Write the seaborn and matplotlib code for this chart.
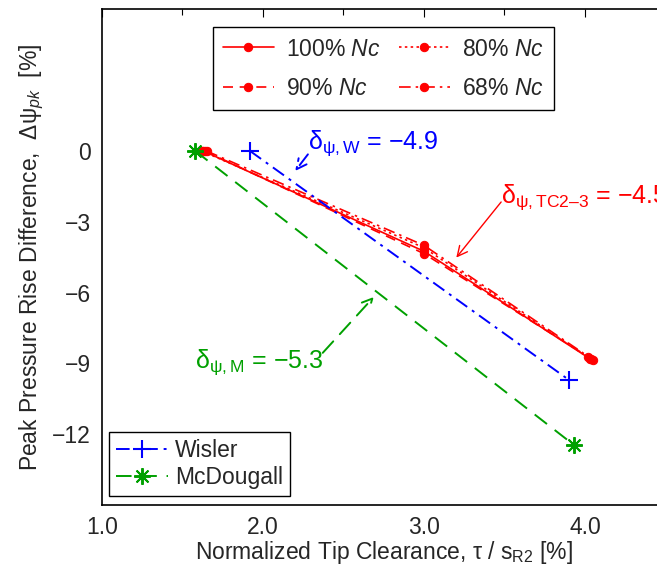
import matplotlib
matplotlib.use("Agg")
import matplotlib.pyplot as plt
import seaborn as sns
import pandas as pd
from matplotlib.ticker import FixedLocator

# ---- data ----
speeds = ["100%", "90%", "80%", "68%"]
tc_100 = [1.63, 3.0, 4.03]
dpsi_100 = [0.0, -4.25, -8.80]
tc_90 = [1.64, 3.0, 4.05]
dpsi_90 = [0.0, -4.35, -8.85]
tc_80 = [1.62, 3.0, 4.02]
dpsi_80 = [0.0, -4.10, -8.75]
tc_68 = [1.65, 3.0, 4.04]
dpsi_68 = [0.0, -4.00, -8.80]

wisler_tc = [1.92, 3.90]
wisler_dpsi = [0.0, -9.70]
mcdougall_tc = [1.58, 3.93]
mcdougall_dpsi = [0.0, -12.45]

slope_w = -4.9
slope_tc = -4.5
slope_m = -5.3

xticks = [1.0, 2.0, 3.0, 4.0]
yticks = [-12, -9, -6, -3, 0]

# ---- style ----
sns.set_style("white")
plt.rcParams["font.family"] = ["Liberation Sans", "DejaVu Sans"]
plt.rcParams["mathtext.fontset"] = "custom"
plt.rcParams["mathtext.rm"] = "Liberation Sans"
plt.rcParams["mathtext.it"] = "Liberation Sans:italic"
plt.rcParams["mathtext.sf"] = "Liberation Sans"
plt.rcParams["axes.unicode_minus"] = True

FS = 16.5
AFS = 18
RED = "#ff0000"
BLUE = "#0000ff"
GREEN = "#00a000"

fig = plt.figure(figsize=(6.57, 5.71), dpi=100)
ax = fig.add_axes([0.155, 0.1156, 0.858, 0.868])

red_sets = [
    ("100%", tc_100, dpsi_100, "-"),
    ("90%", tc_90, dpsi_90, (0, (6, 4))),
    ("80%", tc_80, dpsi_80, (0, (1.5, 2))),
    ("68%", tc_68, dpsi_68, (0, (7, 3, 1.5, 3))),
]
red_handles = []
for name, xs, ys, ls in red_sets:
    df = pd.DataFrame({"tc": xs, "dpsi": ys})
    sns.lineplot(data=df, x="tc", y="dpsi", ax=ax, color=RED, linestyle=ls,
                 marker="o", markersize=6, markeredgecolor=RED, markerfacecolor=RED,
                 linewidth=1.2, sort=False, estimator=None, legend=False)
    red_handles.append(ax.lines[-1])

dfw = pd.DataFrame({"tc": wisler_tc, "dpsi": wisler_dpsi})
sns.lineplot(data=dfw, x="tc", y="dpsi", ax=ax, color=BLUE,
             linestyle=(0, (7, 3, 1.5, 3)), marker="+", markersize=13,
             markeredgecolor=BLUE, markeredgewidth=1.5, linewidth=1.4,
             sort=False, estimator=None, legend=False)
h_w = ax.lines[-1]
dfm = pd.DataFrame({"tc": mcdougall_tc, "dpsi": mcdougall_dpsi})
sns.lineplot(data=dfm, x="tc", y="dpsi", ax=ax, color=GREEN,
             linestyle=(0, (8, 5)), marker=(8, 2, 0), markersize=12,
             markeredgecolor=GREEN, markeredgewidth=1.4, linewidth=1.4,
             sort=False, estimator=None, legend=False)
h_m = ax.lines[-1]

ax.set_xlim(1.0, 4.5)
ax.set_ylim(-15, 6)
ax.xaxis.set_major_locator(FixedLocator(xticks))
ax.xaxis.set_minor_locator(FixedLocator([1.5, 2.5, 3.5]))
ax.set_xticklabels([f"{v:.1f}" for v in xticks])
ax.yaxis.set_major_locator(FixedLocator(yticks))
ax.set_yticklabels([f"{v:d}".replace("-", "\u2212") for v in yticks])
ax.tick_params(which="both", direction="in", top=True, right=True,
               labelsize=FS, color="black", width=0.8)
ax.tick_params(which="major", length=6, pad=8)
ax.tick_params(which="minor", length=4)
for sp in ax.spines.values():
    sp.set_color("black")
    sp.set_linewidth(1.2)

ax.set_xlabel("Normalized Tip Clearance, \u03c4 / s$_{\\mathrm{R2}}$ [%]", fontsize=FS, labelpad=0)
ax.set_ylabel("Peak Pressure Rise Difference,  \u0394\u03c8$_{\\mathit{pk}}$  [%]", fontsize=FS, labelpad=4)

# legends
leg1 = ax.legend(red_handles, [f"{s} $\\mathit{{Nc}}$" for s in speeds],
                 loc="upper left", bbox_to_anchor=(0.197, 0.964), ncol=2,
                 fontsize=FS, frameon=True, fancybox=False, edgecolor="black",
                 framealpha=1, handlelength=2.2, handletextpad=0.55,
                 columnspacing=0.8, borderpad=0.45, labelspacing=0.7, borderaxespad=0)
leg1.get_frame().set_linewidth(1.0)
ax.add_artist(leg1)
leg2 = ax.legend([h_w, h_m], ["Wisler", "McDougall"], loc="lower left",
                 bbox_to_anchor=(0.0124, 0.018), fontsize=FS, frameon=True,
                 fancybox=False, edgecolor="black", framealpha=1,
                 handlelength=2.3, handletextpad=0.3, borderpad=0.3,
                 labelspacing=0.2, borderaxespad=0)
leg2.get_frame().set_linewidth(1.0)

# annotations
ax.annotate("", xy=(2.19, -0.94), xytext=(2.29, -0.05),
            arrowprops=dict(arrowstyle="->", color=BLUE, lw=1.4,
                            linestyle=(0, (7, 3, 1.5, 3)), mutation_scale=18))
ax.text(2.28, 0.1, f"\u03b4$_{{\\mathrm{{\u03c8,W}}}}$ = \u2212{abs(slope_w):.1f}",
        color=BLUE, fontsize=AFS, ha="left", va="baseline")

ax.annotate("", xy=(3.19, -4.61), xytext=(3.49, -2.07),
            arrowprops=dict(arrowstyle="->", color=RED, lw=1.0, mutation_scale=18))
ax.text(3.48, -2.2, f"\u03b4$_{{\\mathrm{{\u03c8,TC2\u20133}}}}$ = \u2212{abs(slope_tc):.1f}",
        color=RED, fontsize=AFS, ha="left", va="baseline")

ax.annotate("", xy=(2.70, -6.10), xytext=(2.36, -8.64),
            arrowprops=dict(arrowstyle="->", color=GREEN, lw=1.4,
                            linestyle=(0, (8, 5)), mutation_scale=18))
ax.text(1.58, -9.19, f"\u03b4$_{{\\mathrm{{\u03c8,M}}}}$ = \u2212{abs(slope_m):.1f}",
        color=GREEN, fontsize=AFS, ha="left", va="baseline")

fig.savefig("out.png", dpi=100)
